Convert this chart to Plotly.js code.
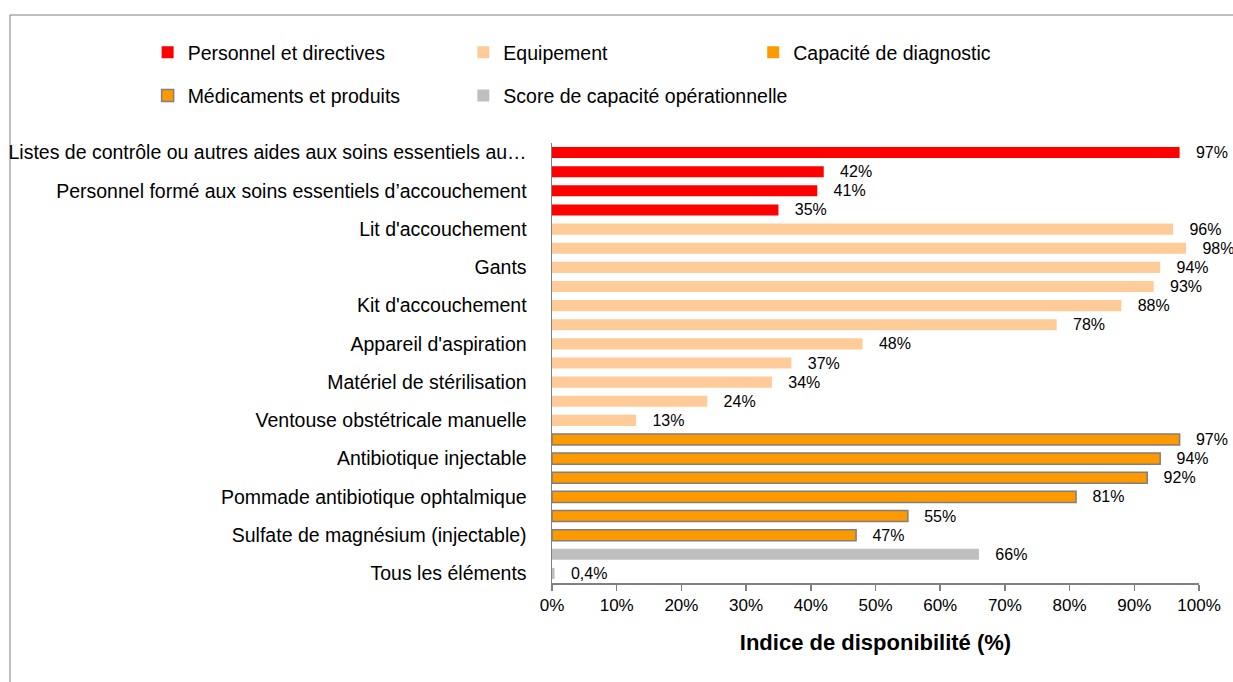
<!DOCTYPE html>
<html>
<head>
<meta charset="utf-8">
<script src="https://cdn.plot.ly/plotly-3.0.1.min.js"></script>
<style>html,body{margin:0;padding:0;background:#fff;}#chart{width:1233px;height:682px;}</style>
</head>
<body>
<div id="chart"></div>
<script>
// Row labels (one per bar row, top to bottom; "" = row without a shown label)
const rowLabels = [
  "Listes de contrôle ou autres aides aux soins essentiels au…", "",
  "Personnel formé aux soins essentiels d’accouchement", "",
  "Lit d'accouchement", "",
  "Gants", "",
  "Kit d'accouchement", "",
  "Appareil d'aspiration", "",
  "Matériel de stérilisation", "",
  "Ventouse obstétricale manuelle", "",
  "Antibiotique injectable", "",
  "Pommade antibiotique ophtalmique", "",
  "Sulfate de magnésium (injectable)", "",
  "Tous les éléments"
];
const seriesNames = ["Personnel et directives", "Equipement", "Capacité de diagnostic",
                     "Médicaments et produits", "Score de capacité opérationnelle"];
const personnelValues = [97, 42, 41, 35];
const equipementValues = [96, 98, 94, 93, 88, 78, 48, 37, 34, 24, 13];
const diagnosticValues = [];
const medicamentsValues = [97, 94, 92, 81, 55, 47];
const scoreValues = [66, 0.4];
const xTickVals = [0, 10, 20, 30, 40, 50, 60, 70, 80, 90, 100];
const xTickLabels = ["0%", "10%", "20%", "30%", "40%", "50%", "60%", "70%", "80%", "90%", "100%"];

const FONT = "'Liberation Sans Narrow', 'Arial Narrow', 'Liberation Sans', Arial, sans-serif";
const pad = "\u00a0\u00a0\u00a0";
const fmt = v => pad + String(v).replace('.', ',') + '%';

let rowIdx = 0;
function makeTrace(values, name, color, line, legend, group) {
  const ys = values.map((_, i) => rowIdx + i);
  rowIdx += values.length;
  return {
    type: 'bar', orientation: 'h', name: name,
    x: values.length ? values : [null], y: values.length ? ys : [null],
    width: 0.58,
    marker: {color: color, line: line},
    text: values.map(fmt), textposition: 'outside',
    textfont: {family: FONT, size: 16, color: '#000'},
    constraintext: 'none', cliponaxis: false,
    legend: legend, legendgroup: group,
    hoverinfo: 'x+name'
  };
}

const tPers = makeTrace(personnelValues, seriesNames[0], '#FF0000', {width: 0}, 'legend', 'a');
const tEq = makeTrace(equipementValues, seriesNames[1], '#FFCC99', {width: 0}, 'legend2', 'b');
const tDiag = makeTrace(diagnosticValues, seriesNames[2], '#FF9900', {width: 0}, 'legend3', 'c');
const tMed = makeTrace(medicamentsValues, seriesNames[3], '#FF9900', {width: 1.5, color: '#7F7F7F'}, 'legend', 'd');
const tScore = makeTrace(scoreValues, seriesNames[4], '#BFBFBF', {width: 0}, 'legend2', 'e');

const tickIdx = [], tickTxt = [];
rowLabels.forEach((l, i) => { if (l) { tickIdx.push(i); tickTxt.push(l); } });

const legendBase = {
  font: {family: FONT, size: 19.5, color: '#000'},
  bgcolor: 'rgba(0,0,0,0)', orientation: 'v', traceorder: 'grouped',
  tracegroupgap: 15, yanchor: 'top', xanchor: 'left', itemclick: false
};

const layout = {
  width: 1233, height: 682,
  margin: {l: 552, r: 34, t: 143, b: 99, pad: 0},
  paper_bgcolor: '#fff', plot_bgcolor: '#fff',
  font: {family: FONT, size: 18, color: '#000'},
  barmode: 'overlay',
  showlegend: true,
  legend: Object.assign({}, legendBase, {x: -0.625, y: 1.25}),
  legend2: Object.assign({}, legendBase, {x: -0.137, y: 1.25}),
  legend3: Object.assign({}, legendBase, {x: 0.311, y: 1.25}),
  xaxis: {
    range: [0, 100], tickmode: 'array', tickvals: xTickVals, ticktext: xTickLabels,
    showgrid: false, zeroline: false, showline: true, linecolor: '#808080', linewidth: 1.5,
    ticks: 'outside', ticklen: 6, tickcolor: '#808080', tickwidth: 1.5,
    tickfont: {family: FONT, size: 17, color: '#000'},
    title: {text: 'Indice de disponibilité (%)', standoff: 20,
            font: {family: FONT, size: 22, color: '#000', weight: 'bold'}}
  },
  yaxis: {
    range: [22.5, -0.5], tickmode: 'array', tickvals: tickIdx, ticktext: tickTxt,
    showgrid: false, zeroline: false, showline: true, linecolor: '#808080', linewidth: 1.5,
    ticks: 'outside', ticklen: 20, tickcolor: 'rgba(0,0,0,0)',
    tickfont: {family: FONT, size: 19.5, color: '#000'}
  },
  shapes: [{
    type: 'rect', xref: 'paper', yref: 'paper',
    x0: -0.8377, x1: 1.2, y0: -0.3, y1: 1.2909,
    line: {color: '#808080', width: 1}, fillcolor: 'rgba(0,0,0,0)', layer: 'below'
  }]
};

Plotly.newPlot('chart', [tPers, tEq, tDiag, tMed, tScore], layout, {displayModeBar: false, staticPlot: true});
</script>
</body>
</html>
